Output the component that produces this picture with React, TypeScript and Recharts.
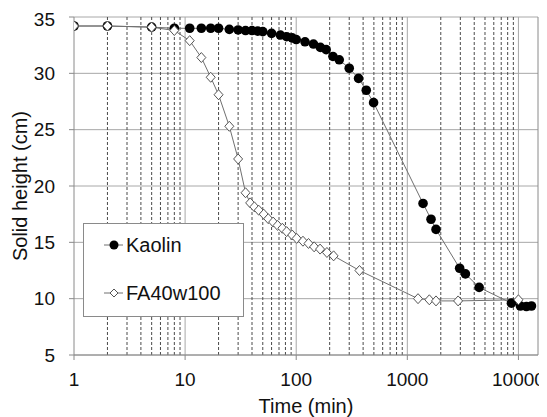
import React from 'react';
import {
  LineChart,
  Line,
  XAxis,
  YAxis,
  CartesianGrid,
  ReferenceLine,
} from 'recharts';

// Kaolin (filled circles)
const kaolinTime = [1, 2, 5, 8, 11, 14, 17, 20, 25, 30, 35, 40, 45, 50, 60, 72, 82, 92, 100, 120, 143, 165, 186, 214, 244, 300, 364, 427, 497, 1385, 1634, 1812, 2958, 3333, 4430, 8650, 10420, 11800, 13100];
const kaolinHeight = [34.2, 34.2, 34.1, 34.0, 34.0, 34.0, 34.0, 34.0, 33.9, 33.85, 33.8, 33.8, 33.75, 33.7, 33.55, 33.4, 33.25, 33.15, 33.0, 32.8, 32.6, 32.3, 32.1, 31.5, 31.2, 30.45, 29.55, 28.5, 27.4, 18.45, 17.05, 16.15, 12.7, 12.2, 11.0, 9.6, 9.35, 9.3, 9.35];

// FA40w100 (open diamonds)
const faTime = [1, 2, 5, 8, 11, 14, 17, 20, 25, 30, 35, 38.5, 42, 46, 51, 56, 62, 68, 75, 82, 92, 101, 115, 129, 145, 164, 189, 217, 371, 1248, 1578, 1812, 2864, 10000];
const faHeight = [34.2, 34.2, 34.1, 33.8, 32.9, 31.4, 29.65, 28.1, 25.3, 22.4, 19.4, 18.5, 18.15, 17.85, 17.5, 17.1, 16.8, 16.5, 16.25, 15.95, 15.65, 15.35, 15.1, 14.9, 14.6, 14.4, 14.1, 13.8, 12.5, 10.0, 9.9, 9.8, 9.8, 9.9];

const xTicks = [1, 10, 100, 1000, 10000];
const yTicks = [5, 10, 15, 20, 25, 30, 35];
const X_MAX = 15000;

const kaolinData = kaolinTime.map((t, i) => ({ t, h: kaolinHeight[i] }));
const faData = faTime.map((t, i) => ({ t, h: faHeight[i] }));

// dashed minor gridlines at 2..9 of each decade
const minorLines: number[] = [];
xTicks.forEach((d) => {
  for (let m = 2; m <= 9; m++) {
    if (d * m < X_MAX) minorLines.push(d * m);
  }
});

const FONT = 'Liberation Sans, Arial, sans-serif';
const GRID = '#a8a8a8';
const LINE = '#707070';

const Diamond = (props: any) => {
  const { cx, cy, index } = props;
  if (cx == null || cy == null) return <g key={`d-${index}`} />;
  return (
    <path
      key={`d-${index}`}
      d={`M${cx},${cy - 5}L${cx + 4.5},${cy}L${cx},${cy + 5}L${cx - 4.5},${cy}Z`}
      fill="#fff"
      stroke="#555"
      strokeWidth={1}
    />
  );
};

// legend box drawn over the plot, like the original
const LegendBox = () => (
  <svg width={161} height={94} style={{ position: 'absolute', left: 75, top: 215, display: 'block' }}>
    <rect x={0.5} y={0.5} width={160} height={93} fill="#fff" stroke="#8a8a8a" />
    <line x1={21} x2={40} y1={22} y2={22} stroke={LINE} />
    <circle cx={31} cy={22} r={4.5} fill="#000" />
    <text x={43} y={29} fontSize={20} fontFamily={FONT} fill="#111">Kaolin</text>
    <line x1={21} x2={40} y1={70} y2={70} stroke={LINE} />
    <path d="M31,66L35,70L31,74L27,70Z" fill="#fff" stroke="#555" />
    <text x={43} y={77} fontSize={20} fontFamily={FONT} fill="#111">FA40w100</text>
  </svg>
);

export default function App() {
  return (
    <div style={{ position: 'relative', width: 539, height: 409 }}>
      <LineChart
        width={539}
        height={409}
        margin={{ top: 9, right: 9, left: 0, bottom: 0 }}
        style={{ fontFamily: FONT }}
      >
        <CartesianGrid stroke={GRID} vertical={false} />
        {minorLines.map((v) => (
          <ReferenceLine key={`m-${v}`} x={v} stroke="#4a4a4a" strokeDasharray="3 2" />
        ))}
        {xTicks.slice(1).map((v) => (
          <ReferenceLine key={`d-${v}`} x={v} stroke={GRID} />
        ))}
        <ReferenceLine x={X_MAX} stroke="#8a8a8a" />
        <XAxis
          dataKey="t"
          type="number"
          scale="log"
          domain={[1, X_MAX]}
          ticks={xTicks}
          allowDataOverflow
          height={62}
          stroke="#8a8a8a"
          tickSize={5}
          tickMargin={13}
          tick={{ fill: '#111', fontSize: 19 }}
          label={{ value: 'Time (min)', position: 'insideBottom', offset: 4, fill: '#111', fontSize: 20 }}
        />
        <YAxis
          type="number"
          domain={[5, 35]}
          ticks={yTicks}
          width={66}
          stroke="#8a8a8a"
          tickSize={5}
          tickMargin={14}
          tick={{ fill: '#111', fontSize: 19 }}
          label={{
            value: 'Solid height (cm)',
            angle: -90,
            position: 'insideLeft',
            offset: 12,
            fill: '#111',
            fontSize: 20,
            style: { textAnchor: 'middle' },
          }}
        />
        <Line
          data={kaolinData}
          dataKey="h"
          name="Kaolin"
          type="linear"
          stroke={LINE}
          strokeWidth={1}
          dot={{ r: 4.8, fill: '#000', stroke: '#000', strokeWidth: 0 }}
          activeDot={false}
          isAnimationActive={false}
        />
        <Line
          data={faData}
          dataKey="h"
          name="FA40w100"
          type="linear"
          stroke={LINE}
          strokeWidth={1}
          dot={Diamond}
          activeDot={false}
          isAnimationActive={false}
        />
      </LineChart>
      <LegendBox />
    </div>
  );
}
